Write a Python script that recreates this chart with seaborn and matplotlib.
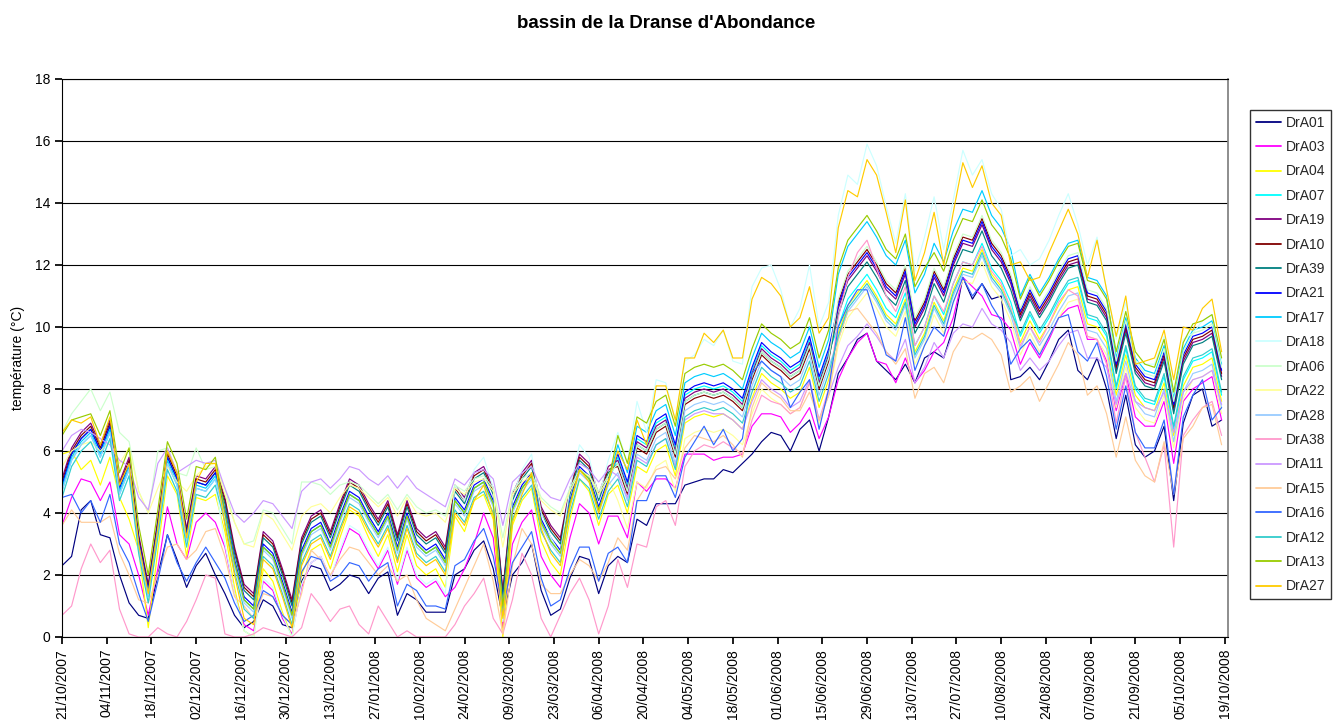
import numpy as np
import pandas as pd
import matplotlib
matplotlib.use("Agg")
import matplotlib.pyplot as plt
import matplotlib.dates as mdates
import seaborn as sns

# readings every 3 days from 21/10/2007
START = pd.Timestamp("2007-10-21")
STEP_DAYS = 3

SERIES = ["DrA01", "DrA03", "DrA04", "DrA07", "DrA19", "DrA10", "DrA39", "DrA21",
          "DrA17", "DrA18", "DrA06", "DrA22", "DrA28", "DrA38", "DrA11", "DrA15",
          "DrA16", "DrA12", "DrA13", "DrA27"]
COLORS = ["#000080", "#FF00FF", "#FFFF00", "#00FFFF", "#800080", "#800000", "#008080", "#0000FF",
          "#00CCFF", "#CCFFFF", "#CCFFCC", "#FFFF99", "#99CCFF", "#FF99CC", "#CC99FF", "#FFCC99",
          "#3366FF", "#33CCCC", "#99CC00", "#FFCC00"]

DrA01 = [2.3, 2.6, 4.1, 4.4, 3.3, 3.2, 2.0, 1.1, 0.7, 0.6,
         2.0, 3.3, 2.5, 1.6, 2.3, 2.7, 2.0, 1.4, 0.7, 0.3,
         0.5, 1.2, 1.0, 0.4, 0.3, 1.8, 2.3, 2.2, 1.5, 1.7,
         2.0, 1.9, 1.4, 1.9, 2.1, 0.7, 1.4, 1.2, 0.8, 0.8,
         0.8, 2.0, 2.2, 2.8, 3.1, 2.2, 0.6, 2.0, 2.4, 3.0,
         1.5, 0.7, 0.9, 1.9, 2.6, 2.5, 1.4, 2.3, 2.6, 2.4,
         3.8, 3.6, 4.3, 4.3, 4.3, 4.9, 5.0, 5.1, 5.1, 5.4,
         5.3, 5.6, 5.9, 6.3, 6.6, 6.5, 6.0, 6.7, 7.0, 6.0,
         7.1, 8.5, 9.0, 9.6, 9.8, 8.9, 8.6, 8.3, 8.8, 8.2,
         9.0, 9.2, 9.0, 10.0, 11.6, 10.9, 11.4, 10.9, 11.0, 8.3,
         8.4, 8.7, 8.3, 8.9, 9.6, 9.9, 8.6, 8.3, 9.0, 8.0,
         6.4, 7.8, 6.2, 5.8, 6.0, 6.8, 4.4, 6.9, 7.8, 8.0,
         6.8, 7.0]
DrA03 = [3.6, 4.5, 5.1, 5.0, 4.4, 5.0, 3.3, 3.0, 2.0, 0.7,
         2.2, 4.2, 3.0, 2.5, 3.7, 4.0, 3.7, 2.9, 1.4, 0.4,
         0.2, 1.8, 1.5, 0.6, 0.1, 1.6, 2.4, 2.6, 1.9, 2.7,
         3.5, 3.3, 2.7, 2.2, 2.8, 1.7, 2.8, 1.9, 1.6, 1.8,
         1.3, 1.6, 2.2, 3.0, 4.0, 3.2, 0.3, 3.0, 3.7, 4.1,
         2.6, 2.0, 1.6, 3.2, 4.3, 4.0, 3.0, 3.9, 3.9, 3.2,
         5.0, 4.7, 5.1, 5.1, 4.8, 5.9, 5.9, 5.9, 5.7, 5.8,
         5.8, 5.9, 6.8, 7.2, 7.2, 7.1, 6.6, 6.9, 7.4, 6.4,
         7.1, 8.3, 9.0, 9.5, 9.8, 8.9, 8.8, 8.2, 9.0, 8.2,
         8.6, 9.2, 9.5, 10.3, 11.6, 11.3, 11.0, 10.4, 10.3, 9.9,
         8.8, 9.5, 9.0, 9.6, 10.3, 10.6, 10.7, 9.6, 9.6, 8.9,
         7.3, 8.5, 7.1, 6.8, 6.8, 7.6, 5.6, 7.6, 8.0, 8.2,
         8.4, 7.0]
DrA04 = [5.9, 6.0, 5.4, 5.7, 4.9, 5.8, 4.5, 3.8, 2.8, 0.3,
         2.8, 5.2, 4.6, 2.6, 4.5, 4.4, 4.6, 3.4, 1.6, 0.2,
         0.0, 2.2, 1.8, 0.8, 0.0, 2.0, 2.8, 3.0, 2.2, 3.2,
         4.1, 3.9, 3.2, 2.6, 3.3, 2.1, 3.3, 2.3, 2.0, 2.2,
         1.6, 3.9, 3.4, 4.4, 4.6, 3.8, 0.0, 3.6, 4.4, 4.8,
         3.1, 2.4, 2.0, 3.8, 5.1, 4.7, 3.6, 4.6, 4.9, 4.0,
         5.5, 5.3, 6.0, 6.2, 5.2, 6.9, 7.1, 7.2, 7.1, 7.2,
         7.0, 6.7, 7.7, 8.5, 8.2, 8.0, 7.7, 7.9, 8.7, 7.4,
         8.3, 9.8, 10.7, 11.1, 11.5, 11.0, 10.4, 10.1, 10.9, 9.2,
         9.8, 10.8, 10.2, 11.2, 11.9, 11.8, 12.5, 11.7, 11.3, 10.6,
         9.5, 10.2, 9.6, 10.1, 10.7, 11.2, 11.3, 10.1, 10.0, 9.5,
         7.8, 9.1, 7.8, 7.4, 7.3, 8.2, 6.5, 8.1, 8.7, 8.8,
         9.0, 7.6]
DrA07 = [4.7, 5.7, 6.2, 6.5, 5.8, 6.6, 4.6, 5.4, 2.9, 1.3,
         3.4, 5.6, 4.9, 3.1, 4.8, 4.7, 5.1, 4.0, 2.4, 1.2,
         0.9, 2.9, 2.6, 1.7, 0.7, 2.7, 3.4, 3.6, 2.9, 3.8,
         4.6, 4.4, 3.8, 3.3, 3.9, 2.8, 3.9, 3.0, 2.7, 2.9,
         2.4, 4.4, 4.0, 4.8, 5.0, 4.3, 1.0, 4.1, 4.8, 5.2,
         3.7, 3.1, 2.7, 4.3, 5.4, 5.1, 4.1, 5.0, 5.8, 4.9,
         6.4, 6.2, 6.9, 7.1, 6.1, 7.8, 8.0, 8.1, 8.0, 8.1,
         7.9, 7.6, 8.6, 9.4, 9.1, 8.9, 8.6, 8.8, 9.6, 8.3,
         9.2, 10.0, 10.9, 11.3, 11.7, 11.2, 10.6, 10.3, 11.1, 9.4,
         10.0, 11.0, 10.4, 11.4, 12.1, 12.0, 12.7, 11.9, 11.5, 10.8,
         9.7, 10.4, 9.8, 10.3, 10.9, 11.4, 11.5, 10.3, 10.2, 9.7,
         8.0, 9.3, 8.0, 7.6, 7.5, 8.4, 6.7, 8.3, 8.9, 9.0,
         9.2, 7.8]
DrA19 = [5.1, 6.1, 6.6, 6.9, 6.2, 7.0, 5.0, 5.8, 3.3, 1.7,
         3.8, 6.0, 5.3, 3.5, 5.2, 5.1, 5.5, 4.5, 2.9, 1.7,
         1.4, 3.4, 3.1, 2.2, 1.2, 3.2, 3.9, 4.1, 3.4, 4.3,
         5.1, 4.9, 4.3, 3.8, 4.4, 3.3, 4.4, 3.5, 3.2, 3.4,
         2.9, 4.9, 4.5, 5.3, 5.5, 4.8, 1.5, 4.6, 5.3, 5.7,
         4.2, 3.6, 3.2, 4.8, 5.9, 5.6, 4.6, 5.5, 5.7, 4.8,
         6.3, 6.1, 6.8, 7.0, 6.0, 7.7, 7.9, 8.0, 7.9, 8.0,
         7.8, 7.5, 8.5, 9.3, 9.0, 8.8, 8.5, 8.7, 9.5, 8.2,
         9.1, 10.6, 11.5, 11.9, 12.3, 11.8, 11.2, 10.9, 11.7, 10.0,
         10.6, 11.6, 11.0, 12.0, 12.7, 12.6, 13.3, 12.5, 12.1, 11.4,
         10.3, 11.0, 10.4, 10.9, 11.5, 12.0, 12.1, 10.9, 10.8, 10.3,
         8.6, 9.9, 8.6, 8.2, 8.1, 9.0, 7.3, 8.9, 9.5, 9.6,
         9.8, 8.4]
DrA10 = [5.0, 6.0, 6.5, 6.8, 6.1, 6.9, 4.9, 5.7, 3.2, 1.6,
         3.7, 5.9, 5.2, 3.4, 5.1, 5.0, 5.4, 4.4, 2.8, 1.6,
         1.3, 3.3, 3.0, 2.1, 1.1, 3.1, 3.8, 4.0, 3.3, 4.2,
         5.0, 4.8, 4.2, 3.7, 4.3, 3.2, 4.3, 3.4, 3.1, 3.3,
         2.8, 4.8, 4.4, 5.2, 5.4, 4.7, 1.4, 4.5, 5.2, 5.6,
         4.1, 3.5, 3.1, 4.7, 5.8, 5.5, 4.5, 5.4, 5.5, 4.6,
         6.1, 5.9, 6.6, 6.8, 5.8, 7.5, 7.7, 7.8, 7.7, 7.8,
         7.6, 7.3, 8.3, 9.1, 8.8, 8.6, 8.3, 8.5, 9.3, 8.0,
         8.9, 10.8, 11.7, 12.1, 12.5, 12.0, 11.4, 11.1, 11.9, 10.2,
         10.8, 11.8, 11.2, 12.2, 12.9, 12.8, 13.5, 12.7, 12.3, 11.6,
         10.4, 11.1, 10.5, 11.0, 11.6, 12.1, 12.2, 11.0, 10.9, 10.4,
         8.7, 10.0, 8.7, 8.3, 8.2, 9.1, 7.4, 9.0, 9.6, 9.7,
         9.9, 8.5]
DrA39 = [4.9, 5.9, 6.4, 6.7, 6.0, 6.8, 4.8, 5.6, 3.1, 1.5,
         3.6, 5.8, 5.1, 3.3, 5.0, 4.9, 5.3, 4.3, 2.7, 1.5,
         1.2, 3.2, 2.9, 2.0, 1.0, 3.0, 3.7, 3.9, 3.2, 4.1,
         4.9, 4.7, 4.1, 3.6, 4.2, 3.1, 4.2, 3.3, 3.0, 3.2,
         2.7, 4.7, 4.3, 5.1, 5.3, 4.6, 1.3, 4.4, 5.1, 5.5,
         4.0, 3.4, 3.0, 4.6, 5.7, 5.4, 4.4, 5.3, 5.6, 4.7,
         6.2, 6.0, 6.7, 6.9, 5.9, 7.6, 7.8, 7.9, 7.8, 7.9,
         7.7, 7.4, 8.4, 9.2, 8.9, 8.7, 8.4, 8.6, 9.4, 8.1,
         9.0, 10.4, 11.3, 11.7, 12.1, 11.6, 11.0, 10.7, 11.5, 9.8,
         10.4, 11.4, 10.8, 11.8, 12.5, 12.4, 13.1, 12.3, 11.9, 11.2,
         10.2, 10.9, 10.3, 10.8, 11.4, 11.9, 12.0, 10.8, 10.7, 10.2,
         8.5, 9.8, 8.5, 8.1, 8.0, 8.9, 7.2, 8.8, 9.4, 9.5,
         9.7, 8.3]
DrA21 = [4.9, 5.9, 6.4, 6.7, 6.0, 6.8, 4.8, 5.6, 3.1, 1.5,
         3.6, 5.8, 5.1, 3.3, 5.0, 4.9, 5.3, 4.1, 2.5, 1.3,
         1.0, 3.0, 2.7, 1.8, 0.8, 2.8, 3.5, 3.7, 3.0, 3.9,
         4.7, 4.5, 3.9, 3.4, 4.0, 2.9, 4.0, 3.1, 2.8, 3.0,
         2.5, 4.5, 4.1, 4.9, 5.1, 4.4, 1.1, 4.2, 4.9, 5.3,
         3.8, 3.2, 2.8, 4.4, 5.5, 5.2, 4.2, 5.1, 5.9, 5.0,
         6.5, 6.3, 7.0, 7.2, 6.2, 7.9, 8.1, 8.2, 8.1, 8.2,
         8.0, 7.7, 8.7, 9.5, 9.2, 9.0, 8.7, 8.9, 9.7, 8.4,
         9.3, 10.7, 11.6, 12.0, 12.4, 11.9, 11.3, 11.0, 11.8, 10.1,
         10.7, 11.7, 11.1, 12.1, 12.8, 12.7, 13.4, 12.6, 12.2, 11.5,
         10.5, 11.2, 10.6, 11.1, 11.7, 12.2, 12.3, 11.1, 11.0, 10.5,
         8.8, 10.1, 8.8, 8.4, 8.3, 9.2, 7.5, 9.1, 9.7, 9.8,
         10.0, 8.6]
DrA17 = [4.8, 5.8, 6.3, 6.6, 5.9, 6.7, 4.7, 5.5, 3.0, 1.4,
         3.5, 5.7, 5.0, 3.2, 4.9, 4.8, 5.2, 4.0, 2.4, 1.2,
         0.9, 2.9, 2.6, 1.7, 0.7, 2.7, 3.4, 3.6, 2.9, 3.8,
         4.6, 4.4, 3.8, 3.3, 3.9, 2.8, 3.9, 3.0, 2.7, 2.9,
         2.4, 4.4, 4.0, 4.8, 5.0, 4.3, 1.0, 4.1, 4.8, 5.2,
         3.7, 3.1, 2.7, 4.3, 5.4, 5.1, 4.1, 5.0, 6.2, 5.3,
         6.8, 6.6, 7.3, 7.5, 6.5, 8.2, 8.4, 8.5, 8.4, 8.5,
         8.3, 8.0, 9.0, 9.8, 9.5, 9.3, 9.0, 9.2, 10.0, 8.7,
         9.6, 11.7, 12.6, 13.0, 13.4, 12.9, 12.3, 12.0, 12.8, 11.1,
         11.7, 12.7, 12.1, 13.1, 13.8, 13.7, 14.4, 13.6, 13.2, 12.5,
         11.0, 11.7, 11.1, 11.6, 12.2, 12.7, 12.8, 11.6, 11.5, 11.0,
         9.0, 10.3, 9.0, 8.6, 8.5, 9.4, 7.7, 9.3, 9.9, 10.0,
         10.2, 8.8]
DrA18 = [4.5, 5.5, 6.0, 6.3, 5.6, 6.4, 4.4, 5.2, 2.7, 1.1,
         3.2, 5.4, 4.7, 2.9, 4.6, 4.5, 4.9, 3.0, 1.4, 0.2,
         0.0, 1.9, 1.6, 0.7, 0.0, 1.7, 2.4, 2.6, 1.9, 2.8,
         3.6, 3.4, 2.8, 2.3, 2.9, 1.8, 2.9, 2.0, 1.7, 1.9,
         1.4, 4.9, 4.4, 5.4, 5.8, 4.8, 0.5, 4.5, 5.4, 5.9,
         4.0, 3.2, 2.7, 4.8, 6.2, 5.8, 4.5, 5.7, 6.6, 5.6,
         7.6, 6.6, 8.3, 8.2, 7.0, 8.9, 9.1, 9.6, 9.4, 9.9,
         8.9, 8.8, 11.3, 11.9, 12.0, 11.2, 10.0, 10.6, 12.0, 10.0,
         10.8, 13.6, 14.9, 14.6, 15.9, 15.2, 13.9, 12.7, 14.3, 11.8,
         12.9, 14.2, 12.5, 14.1, 15.7, 14.9, 15.4, 14.3, 13.8, 12.3,
         12.5, 12.0, 12.2, 12.8, 13.6, 14.3, 13.3, 12.0, 12.9, 11.2,
         9.6, 10.8, 8.9, 8.8, 8.8, 9.7, 7.9, 9.6, 9.8, 10.2,
         10.4, 8.9]
DrA06 = [6.6, 7.2, 7.6, 8.0, 7.3, 7.9, 6.6, 6.3, 4.7, 4.0,
         6.0, 6.1, 5.3, 5.2, 6.1, 5.4, 5.5, 4.8, 3.7, 3.0,
         3.1, 4.1, 4.0, 3.5, 3.0, 5.0, 5.0, 4.9, 4.6, 4.9,
         5.0, 4.9, 4.6, 4.3, 4.6, 4.1, 4.6, 4.2, 4.0, 4.1,
         3.9, 4.9, 4.7, 5.1, 5.2, 4.8, 3.2, 4.7, 5.1, 5.3,
         4.5, 4.2, 4.0, 4.8, 5.4, 5.2, 4.7, 5.2, 5.6, 4.7,
         6.2, 6.0, 6.7, 6.9, 5.9, 7.6, 7.8, 7.9, 7.8, 7.9,
         7.7, 7.4, 8.4, 9.2, 8.9, 8.7, 8.4, 8.6, 9.4, 8.1,
         9.0, 10.9, 11.8, 12.2, 12.6, 12.1, 11.5, 11.2, 12.0, 10.3,
         10.9, 11.9, 11.3, 12.3, 13.0, 12.9, 13.6, 12.8, 12.4, 11.7,
         10.6, 11.3, 10.7, 11.2, 11.8, 12.3, 12.4, 11.2, 11.1, 10.6,
         8.9, 10.2, 8.9, 8.5, 8.4, 9.3, 7.6, 9.2, 9.8, 9.9,
         10.1, 8.7]
DrA22 = [5.5, 6.0, 6.2, 6.3, 6.0, 6.3, 5.6, 6.1, 4.7, 4.0,
         4.8, 5.5, 5.0, 4.7, 5.2, 5.5, 5.6, 4.6, 3.7, 3.0,
         2.9, 4.0, 3.8, 3.3, 2.8, 3.9, 4.2, 4.3, 4.0, 4.5,
         4.9, 4.8, 4.5, 4.2, 4.5, 3.9, 4.5, 4.0, 3.9, 4.0,
         3.7, 4.8, 4.6, 5.0, 5.1, 4.7, 2.9, 4.6, 5.0, 5.2,
         4.4, 4.1, 3.9, 4.7, 5.3, 5.2, 4.6, 5.1, 4.4, 3.5,
         5.0, 4.8, 5.5, 5.7, 4.7, 6.4, 6.6, 6.7, 6.6, 6.7,
         6.5, 6.2, 7.2, 8.0, 7.7, 7.5, 7.2, 7.4, 8.2, 6.9,
         7.8, 9.4, 10.3, 10.7, 11.1, 10.6, 10.0, 9.7, 10.5, 8.8,
         9.4, 10.4, 9.8, 10.8, 11.5, 11.4, 12.1, 11.3, 10.9, 10.2,
         9.1, 9.8, 9.2, 9.7, 10.3, 10.8, 10.9, 9.7, 9.6, 9.1,
         7.4, 8.7, 7.4, 7.0, 6.9, 7.8, 6.1, 7.7, 8.3, 8.4,
         8.6, 7.2]
DrA28 = [4.7, 5.7, 6.2, 6.5, 5.8, 6.6, 4.6, 5.4, 2.9, 1.3,
         3.4, 5.6, 4.9, 3.1, 4.8, 4.7, 5.1, 3.9, 2.3, 1.1,
         0.8, 2.8, 2.5, 1.6, 0.6, 2.6, 3.3, 3.5, 2.8, 3.7,
         4.5, 4.3, 3.7, 3.2, 3.8, 2.7, 3.8, 2.9, 2.6, 2.8,
         2.3, 4.3, 3.9, 4.7, 4.9, 4.2, 0.9, 4.0, 4.7, 5.1,
         3.6, 3.0, 2.6, 4.2, 5.3, 5.0, 4.0, 4.9, 5.3, 4.4,
         5.9, 5.7, 6.4, 6.6, 5.6, 7.3, 7.5, 7.6, 7.5, 7.6,
         7.4, 7.1, 8.1, 8.9, 8.6, 8.4, 8.1, 8.3, 9.1, 7.8,
         8.7, 9.6, 10.5, 10.9, 11.3, 10.8, 10.2, 9.9, 10.7, 9.0,
         9.6, 10.6, 10.0, 11.0, 11.7, 11.6, 12.3, 11.5, 11.1, 10.4,
         9.3, 10.0, 9.4, 9.9, 10.5, 11.0, 11.1, 9.9, 9.8, 9.3,
         7.6, 8.9, 7.6, 7.2, 7.1, 8.0, 6.3, 7.9, 8.5, 8.6,
         8.8, 7.4]
DrA38 = [0.7, 1.0, 2.2, 3.0, 2.4, 2.8, 0.9, 0.1, 0.0, 0.0,
         0.3, 0.1, 0.0, 0.5, 1.2, 2.0, 1.9, 0.1, 0.0, 0.0,
         0.1, 0.3, 0.2, 0.1, 0.0, 0.3, 1.4, 1.0, 0.5, 0.9,
         1.0, 0.4, 0.1, 1.0, 0.5, 0.0, 0.2, 0.0, 0.0, 0.0,
         0.0, 0.4, 1.0, 1.4, 1.9, 0.6, 0.1, 1.2, 2.7, 2.0,
         0.6, 0.0, 0.7, 1.4, 1.9, 1.2, 0.1, 1.0, 2.5, 1.6,
         3.0, 2.9, 4.2, 4.4, 3.6, 5.5, 6.0, 6.2, 6.1, 6.3,
         6.1, 5.9, 7.0, 7.8, 7.6, 7.5, 7.2, 7.4, 8.2, 7.0,
         8.0, 10.3, 11.6, 12.4, 12.8, 11.9, 11.0, 10.5, 11.3, 9.4,
         10.0, 11.0, 10.5, 11.4, 12.1, 12.0, 12.6, 11.8, 11.4, 10.6,
         9.4, 10.0, 9.5, 10.1, 10.8, 11.2, 11.0, 9.7, 9.6, 8.8,
         6.9, 8.4, 6.6, 5.8, 5.0, 6.2, 2.9, 6.5, 7.0, 7.4,
         7.6, 6.5]
DrA11 = [6.0, 6.5, 6.7, 6.6, 6.4, 6.2, 5.7, 5.5, 4.5, 4.1,
         5.6, 6.1, 5.3, 5.5, 5.7, 5.6, 5.7, 4.8, 4.0, 3.7,
         4.0, 4.4, 4.3, 3.9, 3.5, 4.7, 5.0, 5.1, 4.8, 5.1,
         5.5, 5.4, 5.1, 4.9, 5.2, 4.8, 5.2, 4.8, 4.6, 4.4,
         4.2, 5.1, 4.9, 5.3, 5.4, 5.1, 3.6, 5.0, 5.3, 5.5,
         4.8, 4.5, 4.4, 5.1, 5.6, 5.4, 5.0, 5.4, 5.2, 4.5,
         5.8, 5.6, 6.2, 6.4, 5.5, 7.0, 7.2, 7.3, 7.2, 7.2,
         7.0, 6.7, 7.6, 8.3, 8.0, 7.8, 7.4, 7.6, 8.3, 7.0,
         7.8, 8.7, 9.4, 9.7, 10.1, 9.7, 9.2, 8.9, 9.6, 8.2,
         8.7, 9.5, 9.0, 9.8, 10.1, 10.0, 10.6, 10.1, 9.9, 9.5,
         8.6, 9.0, 8.6, 8.9, 9.4, 9.8, 9.9, 9.0, 9.0, 8.7,
         7.5, 8.5, 7.6, 7.4, 7.3, 7.9, 6.6, 7.9, 8.3, 8.4,
         8.6, 7.5]
DrA15 = [3.6, 4.1, 3.7, 3.7, 3.7, 3.9, 2.7, 2.0, 1.2, 1.1,
         2.0, 2.9, 3.0, 2.5, 2.8, 3.4, 3.5, 2.6, 1.3, 1.0,
         0.6, 1.4, 1.3, 0.7, 0.4, 1.4, 2.8, 2.5, 2.0, 2.5,
         2.9, 2.8, 2.4, 2.0, 2.3, 1.8, 2.0, 1.2, 0.6, 0.4,
         0.2, 0.9, 1.6, 2.3, 3.0, 1.8, 0.1, 2.3, 3.5, 3.0,
         1.7, 1.4, 1.4, 2.0, 2.5, 2.3, 1.8, 2.4, 3.2, 2.8,
         4.4, 4.9, 5.4, 5.5, 5.1, 6.1, 6.5, 6.4, 6.3, 6.5,
         6.2, 5.8, 7.4, 8.2, 7.9, 7.7, 7.3, 7.3, 7.9, 7.0,
         7.8, 9.6, 10.5, 10.6, 10.2, 9.8, 9.2, 8.8, 9.3, 7.7,
         8.5, 8.7, 8.2, 9.2, 9.7, 9.6, 9.8, 9.6, 9.1, 7.9,
         8.1, 8.4, 7.6, 8.2, 8.8, 9.5, 9.1, 7.8, 8.1, 7.2,
         5.8, 7.1, 5.7, 5.2, 5.0, 6.3, 4.6, 6.4, 6.8, 7.4,
         7.5, 6.2]
DrA16 = [4.5, 4.6, 4.0, 4.4, 3.7, 4.6, 3.0, 2.4, 1.4, 0.5,
         1.8, 3.3, 2.4, 1.8, 2.4, 2.9, 2.4, 1.9, 1.1, 0.5,
         0.7, 1.5, 1.3, 0.7, 0.4, 2.1, 2.6, 2.5, 1.8, 2.0,
         2.4, 2.3, 1.8, 2.2, 2.4, 1.0, 1.7, 1.5, 1.0, 1.0,
         0.9, 2.3, 2.5, 3.1, 3.5, 2.6, 0.9, 2.4, 2.9, 3.4,
         1.9, 1.0, 1.2, 2.2, 2.9, 2.9, 1.8, 2.7, 2.9, 2.4,
         4.4, 4.4, 5.2, 5.2, 4.5, 5.8, 6.3, 6.8, 6.2, 6.7,
         6.0, 6.4, 8.5, 8.9, 8.6, 8.4, 7.4, 7.9, 8.3, 6.7,
         8.0, 10.0, 10.7, 11.2, 11.2, 10.2, 9.1, 8.9, 10.3, 8.6,
         9.4, 10.0, 9.7, 10.8, 11.6, 11.0, 11.4, 10.7, 10.2, 8.8,
         9.3, 9.6, 9.1, 9.7, 10.3, 10.4, 9.2, 8.9, 9.5, 8.4,
         6.7, 8.1, 6.6, 6.1, 6.1, 7.0, 4.6, 7.1, 7.8, 8.3,
         7.0, 7.4]
DrA12 = [4.5, 5.5, 6.0, 6.3, 5.6, 6.4, 4.4, 5.2, 2.7, 1.1,
         3.2, 5.4, 4.7, 2.9, 4.6, 4.5, 4.9, 3.7, 2.1, 0.9,
         0.6, 2.6, 2.3, 1.4, 0.4, 2.4, 3.1, 3.3, 2.6, 3.5,
         4.3, 4.1, 3.5, 3.0, 3.6, 2.5, 3.6, 2.7, 2.4, 2.6,
         2.1, 4.1, 3.7, 4.5, 4.7, 4.0, 0.7, 3.8, 4.5, 4.9,
         3.4, 2.8, 2.4, 4.0, 5.1, 4.8, 3.8, 4.7, 5.1, 4.2,
         5.7, 5.5, 6.2, 6.4, 5.4, 7.1, 7.3, 7.4, 7.3, 7.4,
         7.2, 6.9, 7.9, 8.7, 8.4, 8.2, 7.9, 8.1, 8.9, 7.6,
         8.5, 9.7, 10.6, 11.0, 11.4, 10.9, 10.3, 10.0, 10.8, 9.1,
         9.7, 10.7, 10.1, 11.1, 11.8, 11.7, 12.4, 11.6, 11.2, 10.5,
         9.8, 10.5, 9.9, 10.4, 11.0, 11.5, 11.6, 10.4, 10.3, 9.8,
         8.1, 9.4, 8.1, 7.7, 7.6, 8.5, 6.8, 8.4, 9.0, 9.1,
         9.3, 7.9]
DrA13 = [6.5, 7.0, 7.1, 7.2, 6.5, 7.3, 5.3, 6.1, 3.6, 2.0,
         4.1, 6.3, 5.6, 3.8, 5.5, 5.4, 5.8, 4.0, 2.4, 1.2,
         0.9, 2.9, 2.6, 1.7, 0.7, 2.7, 3.4, 3.6, 2.9, 3.8,
         4.6, 4.4, 3.8, 3.3, 3.9, 2.8, 3.9, 3.0, 2.7, 2.9,
         2.4, 4.4, 4.0, 4.8, 5.0, 4.3, 1.0, 4.1, 4.8, 5.2,
         3.7, 3.1, 2.7, 4.3, 5.4, 5.1, 4.1, 5.0, 6.5, 5.6,
         7.1, 6.9, 7.6, 7.8, 6.8, 8.5, 8.7, 8.8, 8.7, 8.8,
         8.6, 8.3, 9.3, 10.1, 9.8, 9.6, 9.3, 9.5, 10.3, 9.0,
         9.9, 11.9, 12.8, 13.2, 13.6, 13.1, 12.5, 12.2, 13.0, 11.3,
         11.9, 12.4, 11.8, 12.8, 13.5, 13.4, 14.1, 13.3, 12.9, 12.2,
         10.9, 11.6, 11.0, 11.5, 12.1, 12.6, 12.7, 11.5, 11.4, 10.9,
         9.2, 10.5, 9.2, 8.8, 8.7, 9.6, 7.9, 9.5, 10.1, 10.2,
         10.4, 9.0]
DrA27 = [6.6, 7.0, 6.9, 7.1, 6.2, 7.1, 4.9, 5.6, 3.0, 1.4,
         3.5, 6.0, 5.3, 3.2, 5.0, 5.6, 5.6, 3.6, 2.0, 0.6,
         0.4, 2.5, 2.2, 1.3, 0.3, 2.3, 3.0, 3.2, 2.5, 3.4,
         4.2, 4.0, 3.4, 2.9, 3.5, 2.4, 3.5, 2.6, 2.3, 2.5,
         2.0, 4.0, 3.6, 4.4, 4.9, 3.9, 0.6, 3.7, 4.6, 5.3,
         3.5, 2.7, 2.3, 4.2, 5.4, 5.0, 4.0, 5.0, 6.0, 5.4,
         7.0, 6.2, 8.1, 8.1, 7.0, 9.0, 9.0, 9.8, 9.5, 9.9,
         9.0, 9.0, 10.9, 11.6, 11.4, 11.0, 10.0, 10.3, 11.3, 9.8,
         10.3, 13.2, 14.4, 14.2, 15.4, 14.9, 13.7, 12.4, 14.1, 11.5,
         12.4, 13.7, 12.0, 13.7, 15.3, 14.5, 15.2, 14.0, 13.6, 12.0,
         12.1, 11.5, 11.6, 12.4, 13.1, 13.8, 13.0, 11.6, 12.8, 11.2,
         9.7, 11.0, 8.8, 8.9, 9.0, 9.9, 8.3, 10.0, 9.9, 10.6,
         10.9, 9.2]

VALUES = {"DrA01": DrA01, "DrA03": DrA03, "DrA04": DrA04, "DrA07": DrA07,
          "DrA19": DrA19, "DrA10": DrA10, "DrA39": DrA39, "DrA21": DrA21,
          "DrA17": DrA17, "DrA18": DrA18, "DrA06": DrA06, "DrA22": DrA22,
          "DrA28": DrA28, "DrA38": DrA38, "DrA11": DrA11, "DrA15": DrA15,
          "DrA16": DrA16, "DrA12": DrA12, "DrA13": DrA13, "DrA27": DrA27}

frames = []
for name in SERIES:
    vals = VALUES[name]
    dates = START + pd.to_timedelta(np.arange(len(vals)) * STEP_DAYS, unit="D")
    frames.append(pd.DataFrame({"date": dates, "temp": vals, "station": name}))
df = pd.concat(frames, ignore_index=True)

sns.set_theme(style="white")
plt.rcParams["font.family"] = ["Liberation Sans", "DejaVu Sans"]

W, H = 1333, 727
fig = plt.figure(figsize=(W / 100, H / 100), dpi=100)
ax = fig.add_axes([62 / W, 1 - 637 / H, (1228 - 62) / W, (637 - 79) / H])

sns.lineplot(data=df, x="date", y="temp", hue="station", hue_order=SERIES,
             palette=COLORS, estimator=None, sort=False, linewidth=0.85, ax=ax)

ax.set_xlim(START, START + pd.Timedelta(days=365))
ax.set_ylim(0, 18)
ax.set_yticks(range(0, 19, 2))
ax.set_xticks(pd.date_range(START, periods=27, freq="14D"))
ax.xaxis.set_major_formatter(mdates.DateFormatter("%d/%m/%Y"))
ax.grid(axis="y", color="black", linewidth=0.8)
ax.grid(axis="x", visible=False)
ax.tick_params(axis="x", rotation=90, bottom=True, direction="out", length=5,
               labelsize=10, labelcolor="black", color="black")
ax.tick_params(axis="y", left=True, direction="out", length=5,
               labelsize=10, labelcolor="black", color="black")
for side in ["left", "bottom", "top"]:
    ax.spines[side].set_color("black")
    ax.spines[side].set_linewidth(0.8)
ax.spines["right"].set_color("#808080")
ax.set_xlabel("")
ax.set_ylabel("")

handles, labels = ax.get_legend_handles_labels()
for h in handles:
    h.set_linewidth(1.3)
ax.legend(handles, labels, loc="upper left", bbox_to_anchor=(1250 / W, 1 - 110 / H),
          bbox_transform=fig.transFigure, borderaxespad=0, frameon=True, fancybox=False,
          edgecolor="black", fontsize=10, handlelength=1.8, labelspacing=0.75,
          borderpad=0.4, handletextpad=0.4, title=None)
ax.get_legend().get_frame().set_linewidth(1.0)

fig.text(0.5, 1 - 24 / H, "bassin de la Dranse d'Abondance", ha="center", va="center",
         fontsize=13.5, fontweight="bold", color="black")
fig.text(18 / W, 1 - 358 / H, "température (°C)", rotation=90, ha="center", va="center",
         fontsize=10, color="black")

fig.savefig("out.png", dpi=100)
